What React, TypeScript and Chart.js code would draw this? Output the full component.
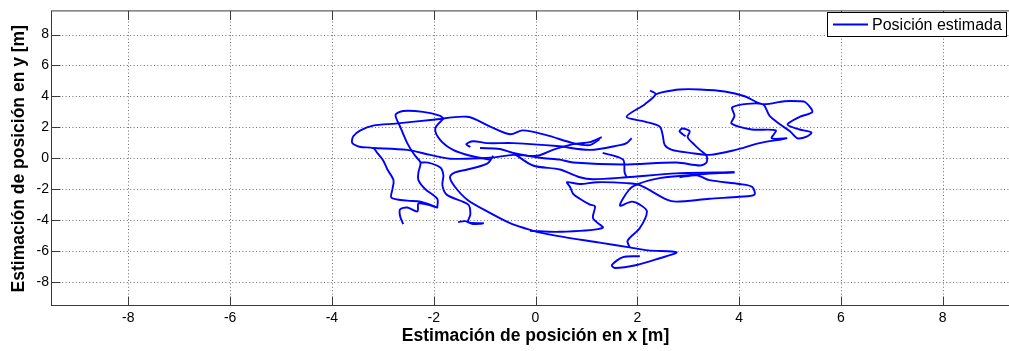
import React, { useEffect, useRef } from "react";
import { Chart, registerables } from "chart.js";

Chart.register(...registerables);

type P = [number, number];

const seriesLabel = "Posición estimada";
const xAxisTitle = "Estimación de posición en x [m]";
const yAxisTitle = "Estimación de posición en y [m]";
const xTicks = [-8, -6, -4, -2, 0, 2, 4, 6, 8];
const yTicks = [-8, -6, -4, -2, 0, 2, 4, 6, 8];
const xRange: P = [-9.5, 9.5];
const yRange: P = [-9.56, 9.5];

// trajectory pieces (x, y in metres)
const trackNorthEast: P[] = [
  [2.25, 4.38], [2.36, 4.13], [2.15, 3.5], [1.79, 2.68], [2.15, 2.37], [2.44, 2.05],
  [2.5, 1.48], [2.54, 0.85], [2.68, 0.54], [3.03, 0.35], [3.42, 0.22], [3.93, 0.54],
  [4.4, 0.98], [4.93, 1.29], [4.64, 1.29], [4.72, 1.8], [4.25, 1.86], [3.85, 2.24],
  [3.91, 2.74], [3.87, 3.31], [4.46, 3.5], [4.6, 2.74], [4.81, 2.18], [5.0, 1.74],
  [5.15, 1.29], [5.34, 1.42], [5.42, 1.67], [5.19, 1.86], [4.95, 2.18], [5.19, 2.68],
  [5.44, 3.0], [5.3, 3.63], [5.19, 3.69], [4.89, 3.69], [4.46, 3.5], [4.11, 4.01],
  [3.72, 4.32], [3.23, 4.45], [2.83, 4.45], [2.48, 4.26], [2.36, 4.13],
];
const trackLoopEast: P[] = [
  [2.95, 1.42], [2.83, 1.74], [2.89, 1.92], [3.03, 1.74], [2.99, 1.36], [3.13, 0.85],
  [3.23, 0.54], [3.36, 0.16], [3.36, -0.28], [3.23, -0.47], [2.77, -0.28], [1.72, -0.41],
  [0.74, -0.28], [0.48, -0.09], [0.09, 0.03], [-0.44, 0.35], [-0.7, 0.6], [-1.09, 0.66],
];
const trackWest: P[] = [
  [-2.6, -4.26], [-2.66, -3.75], [-2.66, -3.31], [-2.52, -3.19], [-2.32, -3.44], [-2.3, -2.93],
  [-2.13, -3.0], [-1.93, -3.19], [-2.26, -2.81], [-2.52, -2.74], [-2.83, -2.56], [-2.81, -1.99],
  [-2.79, -1.42], [-2.91, -0.73], [-2.99, -0.16], [-3.11, 0.35], [-3.19, 0.66], [-3.44, 0.73],
  [-3.6, 0.98], [-3.58, 1.42], [-3.44, 1.8], [-3.19, 2.11], [-2.75, 2.24], [-2.01, 2.49],
  [-1.34, 2.68], [-0.89, 2.05], [-0.5, 1.55], [-0.25, 1.8], [0.23, 1.48], [0.74, 0.98],
  [1.07, 0.85], [1.26, 1.23],
];
const trackCentreLine: P[] = [
  [-3.19, 0.66], [-2.52, 0.54], [-2.07, 0.22], [-1.68, -0.03], [-0.89, 0.03], [-0.44, 0.22],
  [0.03, 0.16], [0.34, 0.54], [0.74, 0.91], [1.07, 1.04], [1.3, 1.36],
];
const trackNorthWest: P[] = [
  [-1.81, 2.56], [-1.87, 2.74], [-2.21, 3.0], [-2.6, 3.06], [-2.75, 2.81], [-2.66, 2.05],
  [-2.52, 0.98], [-2.38, 0.22], [-2.26, -0.28], [-2.3, -0.91], [-2.3, -1.42], [-2.17, -1.99],
  [-1.93, -2.62], [-1.93, -3.19],
];
const trackSouthWest: P[] = [
  [-2.26, -0.28], [-2.11, -0.28], [-1.87, -0.6], [-1.81, -1.1], [-1.83, -1.74], [-1.74, -2.37],
  [-1.32, -3.0], [-1.28, -3.63], [-1.32, -4.13], [-1.03, -4.2], [-1.23, -4.26], [-1.38, -4.07],
  [-1.52, -4.13],
];
const trackDiagonal: P[] = [
  [-1.81, 2.56], [-1.97, 1.92], [-1.87, 1.17], [-1.62, 0.54], [-1.28, 0.16], [-0.89, -0.09],
];
const trackSmallLoop: P[] = [
  [-1.28, 0.73], [-1.36, 0.91], [-1.23, 1.1], [-0.95, 0.98], [-0.44, 0.98], [0.42, 0.79],
  [1.07, 0.54], [1.66, 0.85], [1.79, 0.98], [1.89, 1.29],
];
const trackArcSouth: P[] = [
  [-0.83, 0.16], [-0.95, -0.35], [-1.34, -0.73], [-1.58, -0.91], [-1.68, -1.23], [-1.58, -1.86],
  [-1.34, -2.68], [-0.95, -3.44], [-0.5, -4.2], [-0.17, -4.57], [0.03, -4.76], [0.42, -5.02],
  [1.26, -5.46], [1.85, -5.77], [2.21, -5.96], [2.77, -6.09], [2.44, -6.47], [1.99, -6.91],
  [1.56, -7.1], [1.5, -6.91], [1.72, -6.4], [2.05, -6.34],
];
const trackSouthEast: P[] = [
  [-0.11, -4.7], [0.48, -4.76], [1.32, -4.51], [1.13, -3.88], [1.17, -3.12], [1.07, -3.0],
  [0.87, -2.62], [0.74, -2.3], [0.68, -1.86], [0.62, -1.55], [0.87, -1.67], [1.21, -1.55],
  [1.79, -1.61], [2.05, -1.74], [2.58, -2.68], [2.77, -2.81], [3.42, -2.62], [4.01, -2.49],
  [4.3, -2.37], [4.26, -1.86], [4.01, -1.67], [3.42, -1.42], [3.17, -1.1], [2.83, -1.23],
];
const trackRiseSouth: P[] = [
  [1.85, -5.77], [1.81, -5.33], [2.05, -4.51], [2.19, -3.44], [2.05, -3.0], [1.89, -2.81],
  [1.66, -3.06], [1.85, -1.99], [2.01, -1.67], [2.44, -1.29], [3.23, -1.04], [3.91, -0.91],
];
const trackLongEast: P[] = [
  [-0.44, 0.35], [-0.05, -0.47], [0.48, -0.73], [0.87, -1.23], [1.13, -1.36], [1.79, -1.23],
  [2.77, -0.98], [3.91, -0.91],
];
const trackLink: P[] = [
  [1.32, 0.35], [1.72, -0.09], [1.75, -0.91], [1.79, -1.23],
];

const tracks: P[][] = [
  trackNorthEast, trackLoopEast, trackWest, trackCentreLine, trackNorthWest, trackSouthWest,
  trackDiagonal, trackSmallLoop, trackArcSouth, trackSouthEast, trackRiseSouth, trackLongEast, trackLink,
];

const FONT = "'Liberation Sans', Arial, Helvetica, sans-serif";
const BLUE = "#0000ff";

const matlabFrame = {
  id: "matlabFrame",
  beforeDatasetsDraw(chart: any) {
    const { ctx, chartArea: a, scales } = chart;
    const xs = scales.x;
    const ys = scales.y;
    ctx.save();
    ctx.strokeStyle = "#6e6e6e";
    ctx.lineWidth = 1;
    ctx.setLineDash([1, 2.4]);
    for (const v of xTicks) {
      const px = Math.round(xs.getPixelForValue(v)) + 0.5;
      ctx.beginPath();
      ctx.moveTo(px, a.top);
      ctx.lineTo(px, a.bottom);
      ctx.stroke();
    }
    for (const v of yTicks) {
      const py = Math.round(ys.getPixelForValue(v)) + 0.5;
      ctx.beginPath();
      ctx.moveTo(a.left, py);
      ctx.lineTo(a.right, py);
      ctx.stroke();
    }
    ctx.restore();
  },
  afterDatasetsDraw(chart: any) {
    const { ctx, chartArea: a, scales } = chart;
    const xs = scales.x;
    const ys = scales.y;
    const L = a.left - 0.5;
    const T = a.top - 0.5;
    const B = a.bottom - 0.5;
    const R = a.right - 0.5;
    const tl = 9;
    ctx.save();
    ctx.setLineDash([]);
    ctx.strokeStyle = "#3a3a3a";
    ctx.lineWidth = 1;
    ctx.strokeRect(L, T, R - L, B - T);
    ctx.beginPath();
    for (const v of xTicks) {
      const px = Math.round(xs.getPixelForValue(v)) + 0.5;
      ctx.moveTo(px, B);
      ctx.lineTo(px, B - tl);
      ctx.moveTo(px, T);
      ctx.lineTo(px, T + tl);
    }
    for (const v of yTicks) {
      const py = Math.round(ys.getPixelForValue(v)) + 0.5;
      ctx.moveTo(L, py);
      ctx.lineTo(L + tl, py);
      ctx.moveTo(R, py);
      ctx.lineTo(R - tl, py);
    }
    ctx.stroke();

    // legend box (top-right, inside the axes)
    const lx = 827.5;
    const ly = 12.5;
    const lw = 179;
    const lh = 24;
    ctx.fillStyle = "#ffffff";
    ctx.fillRect(lx, ly, lw, lh);
    ctx.strokeStyle = "#000000";
    ctx.strokeRect(lx, ly, lw, lh);
    ctx.strokeStyle = BLUE;
    ctx.lineWidth = 1.9;
    ctx.beginPath();
    ctx.moveTo(833, 24.5);
    ctx.lineTo(868, 24.5);
    ctx.stroke();
    ctx.fillStyle = "#000000";
    ctx.font = `16px ${FONT}`;
    ctx.textAlign = "left";
    ctx.textBaseline = "middle";
    ctx.fillText(chart.data.datasets[0].label, 872, 25.5);
    ctx.restore();
  },
};

export default function App() {
  const ref = useRef<HTMLCanvasElement | null>(null);

  useEffect(() => {
    if (!ref.current) return;
    const datasets = tracks.map((t, i) => ({
      label: i === 0 ? seriesLabel : "",
      data: t.map(([x, y]) => ({ x, y })),
      showLine: true,
      borderColor: BLUE,
      backgroundColor: BLUE,
      borderWidth: 1.9,
      pointRadius: 0,
      pointHoverRadius: 0,
      tension: 0.3,
      fill: false,
    }));
    const chart = new Chart(ref.current, {
      type: "scatter",
      data: { datasets },
      options: {
        animation: false,
        responsive: false,
        devicePixelRatio: 1,
        events: [],
        layout: { padding: { left: 0, top: 6, right: 11, bottom: 0 } },
        plugins: {
          legend: { display: false },
          tooltip: { enabled: false },
        },
        scales: {
          x: {
            type: "linear",
            min: xRange[0],
            max: xRange[1],
            afterBuildTicks: (s: any) => {
              s.ticks = xTicks.map((v) => ({ value: v }));
            },
            afterFit: (s: any) => {
              s.height = 45;
            },
            grid: { display: false, drawTicks: false },
            border: { display: false },
            ticks: {
              font: { family: FONT, size: 14 },
              color: "#000",
              padding: 4,
              maxRotation: 0,
              autoSkip: false,
              includeBounds: false,
            },
            title: {
              display: true,
              text: xAxisTitle,
              color: "#000",
              font: { family: FONT, size: 17.5, weight: "bold" },
              padding: { top: 0, bottom: 4.5 },
            },
          },
          y: {
            type: "linear",
            min: yRange[0],
            max: yRange[1],
            afterBuildTicks: (s: any) => {
              s.ticks = yTicks.map((v) => ({ value: v }));
            },
            afterFit: (s: any) => {
              s.width = 52;
            },
            grid: { display: false, drawTicks: false },
            border: { display: false },
            ticks: {
              font: { family: FONT, size: 14 },
              color: "#000",
              padding: 3,
              autoSkip: false,
              includeBounds: false,
            },
            title: {
              display: true,
              text: yAxisTitle,
              color: "#000",
              font: { family: FONT, size: 17.5, weight: "bold" },
              padding: { top: 8.5, bottom: 0 },
            },
          },
        },
      },
      plugins: [matlabFrame],
    });
    return () => chart.destroy();
  }, []);

  return (
    <div
      style={{
        position: "absolute",
        left: 0,
        top: 0,
        width: 1009,
        height: 351,
        overflow: "hidden",
        background: "#fff",
      }}
    >
      <canvas ref={ref} width={1030} height={351} style={{ display: "block" }} />
    </div>
  );
}
